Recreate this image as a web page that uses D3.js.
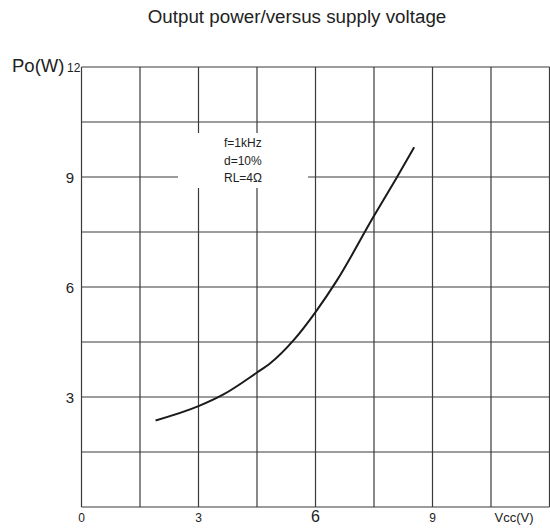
<!DOCTYPE html>
<html>
<head>
<meta charset="utf-8">
<script src="https://cdn.jsdelivr.net/npm/d3@7"></script>
<style>
  body { margin: 0; background: #fff; }
  text { font-family: "Liberation Sans", Arial, sans-serif; fill: #222; }
</style>
</head>
<body>
<div id="chart"></div>
<script>
// curve
var vcc = [1.9, 3.0, 3.64, 4.49, 4.84, 5.44, 6.01, 6.55, 7.49, 8.07, 8.53];
var po  = [2.36, 2.75, 3.07, 3.66, 3.92, 4.55, 5.33, 6.18, 7.92, 8.96, 9.81];

var xTicks = [0, 3, 6, 9];
var yTicks = [3, 6, 9];
var notes = ["f=1kHz", "d=10%", "RL=4\u03a9"];

var width = 550,
    height = 529;

var x = d3.scaleLinear().domain([0, 12]).range([81.5, 549.5]);
var y = d3.scaleLinear().domain([0, 12]).range([507, 67]);

var svg = d3.select("#chart")
    .append("svg")
    .attr("width", width)
    .attr("height", height);

// grid every 1.5
var grid = d3.range(0, 12.01, 1.5);

// the note box punches holes in a few grid lines
var box = {x0: 178, x1: 308, y0: 133, y1: 188};

function vSegs(v) {
    var px = x(v);
    if (px > box.x0 && px < box.x1 && px < 300)
        return [[y(12), box.y0], [box.y1, y(0)]];
    return [[y(12), y(0)]];
}
function hSegs(v) {
    var py = y(v);
    if (py > box.y0 && py < box.y1)
        return [[x(0), box.x0], [box.x1, x(12)]];
    return [[x(0), x(12)]];
}

var g = svg.append("g").attr("stroke", "#3a3a3a").attr("stroke-width", 1.2);

grid.forEach(function(v) {
    vSegs(v).forEach(function(s) {
        g.append("line")
            .attr("x1", x(v)).attr("x2", x(v))
            .attr("y1", s[0]).attr("y2", s[1]);
    });
    hSegs(v).forEach(function(s) {
        g.append("line")
            .attr("y1", y(v)).attr("y2", y(v))
            .attr("x1", s[0]).attr("x2", s[1]);
    });
});

// power curve
var pts = vcc.map(function(d, i) { return [d, po[i]]; });
var line = d3.line()
    .x(function(d) { return x(d[0]); })
    .y(function(d) { return y(d[1]); })
    .curve(d3.curveMonotoneX);

svg.append("path")
    .datum(pts)
    .attr("d", line)
    .style("fill", "none")
    .style("stroke", "#1a1a1a")
    .style("stroke-width", 2);

// axis labels
svg.append("g").selectAll("text")
    .data(yTicks)
    .enter().append("text")
    .attr("x", 74)
    .attr("y", function(d) { return y(d) + 5.5; })
    .attr("text-anchor", "end")
    .style("font-size", "15px")
    .text(function(d) { return d; });

svg.append("g").selectAll("text")
    .data(xTicks)
    .enter().append("text")
    .attr("x", function(d) { return x(d); })
    .attr("y", 522)
    .attr("text-anchor", "middle")
    .style("font-size", function(d) { return d == 6 ? "16px" : "12px"; })
    .text(function(d) { return d; });

svg.append("text")
    .attr("x", 514).attr("y", 522)
    .attr("text-anchor", "middle")
    .style("font-size", "13px")
    .text("Vcc(V)");

svg.append("text")
    .attr("x", 12).attr("y", 72)
    .style("font-size", "18.5px")
    .text("Po(W)");

svg.append("text")
    .attr("x", 67).attr("y", 72)
    .style("font-size", "12px")
    .text("12");

svg.append("text")
    .attr("x", 297).attr("y", 23)
    .attr("text-anchor", "middle")
    .style("font-size", "18.8px")
    .text("Output power/versus supply voltage");

svg.append("g").selectAll("text")
    .data(notes)
    .enter().append("text")
    .attr("x", 224)
    .attr("y", function(d, i) { return 147 + i * 17.5; })
    .style("font-size", "12px")
    .text(function(d) { return d; });
</script>
</body>
</html>
